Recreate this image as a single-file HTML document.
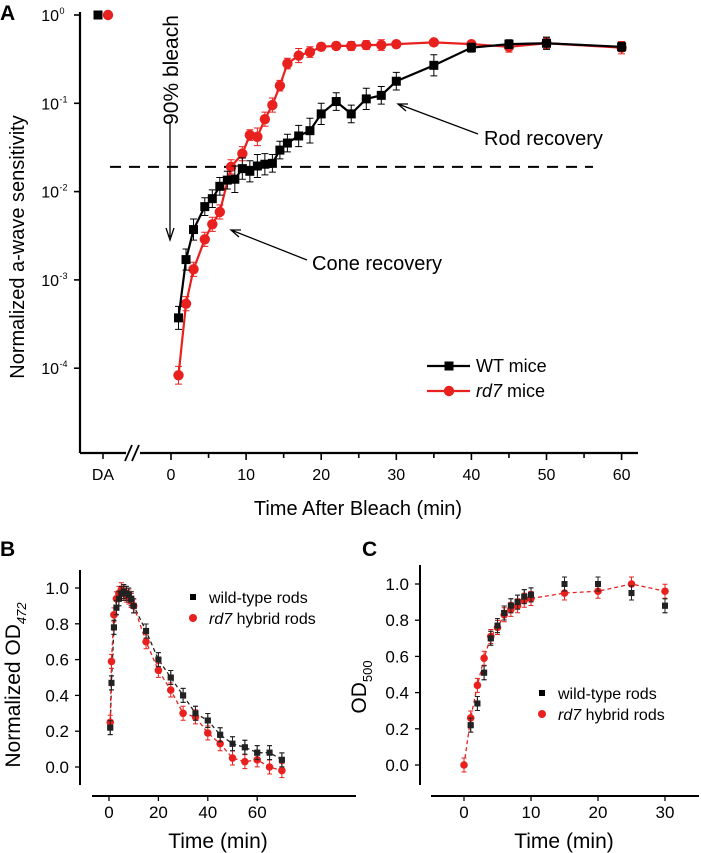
<!DOCTYPE html>
<html><head><meta charset="utf-8"><style>
html,body{margin:0;padding:0;background:#fff}
svg{display:block;font-family:"Liberation Sans",Arial,sans-serif}
</style></head><body>
<svg id="fig" width="702" height="853" viewBox="0 0 702 853">
<text x="0" y="20" font-size="21" font-weight="bold">A</text>
<text x="0" y="556" font-size="21" font-weight="bold">B</text>
<text x="362" y="556" font-size="21" font-weight="bold">C</text>
<g id="gA"></g>
<g id="gB"></g>
<g id="gC"></g>
</svg>
<script>
// ---------- Panel A data (log10 sensitivity) ----------
const aTimes = [1,2,3,4.5,5.5,6.5,7.5,8.5,9.5,10.5,11.5,12.5,13.5,14.5,15.5,17,18.5,20,22,24,26,28,30,35,40,45,50,60];
const aWT = [-3.43,-2.77,-2.43,-2.17,-2.08,-1.94,-1.87,-1.86,-1.74,-1.77,-1.71,-1.69,-1.68,-1.53,-1.45,-1.37,-1.31,-1.12,-0.98,-1.12,-0.95,-0.91,-0.75,-0.57,-0.37,-0.33,-0.32,-0.36];
const aWTerr = [0.13,0.12,0.12,0.1,0.1,0.1,0.1,0.15,0.12,0.12,0.13,0.12,0.1,0.1,0.1,0.12,0.14,0.12,0.1,0.1,0.12,0.1,0.1,0.12,0.05,0.05,0.07,0.05];
const rTimes = [1,2,3,4.5,5.5,6.5,8,9.5,10.5,11.5,12.5,13.5,14.5,15.5,17,18.5,20,22,24,26,28,30,35,40,45,50,60];
const aRD = [-4.08,-3.27,-2.88,-2.54,-2.37,-2.23,-1.72,-1.57,-1.36,-1.38,-1.18,-1.02,-0.8,-0.55,-0.46,-0.42,-0.36,-0.35,-0.35,-0.34,-0.34,-0.33,-0.31,-0.33,-0.36,-0.32,-0.37];
const aRDerr = [0.1,0.08,0.08,0.08,0.08,0.08,0.08,0.08,0.06,0.1,0.08,0.08,0.06,0.06,0.08,0.06,0.04,0.04,0.05,0.05,0.06,0.03,0.03,0.03,0.06,0.06,0.07];
const aDAwt = 0, aDArd = 0;
const aXTicks = [0,10,20,30,40,50,60];
const aYTicks = [0,-1,-2,-3,-4];
const aThreshold = -1.72;
// ---------- Panel B data ----------
const bTimes = [0.5,1,2,3,4,5,6,7,8,9,10,15,20,25,30,35,40,45,50,55,60,65,70];
const bWT = [0.22,0.47,0.78,0.89,0.94,0.97,0.98,0.97,0.96,0.94,0.90,0.76,0.60,0.50,0.40,0.30,0.26,0.18,0.13,0.11,0.08,0.08,0.04];
const bRD = [0.25,0.59,0.85,0.94,0.97,0.99,0.97,0.96,0.95,0.93,0.90,0.70,0.54,0.43,0.30,0.28,0.19,0.13,0.05,0.03,0.04,0.00,-0.02];
const bXTicks = [0,20,40,60];
const bYTicks = [0,0.2,0.4,0.6,0.8,1.0];
// ---------- Panel C data ----------
const cTimesWT = [1,2,3,4,5,6,7,8,9,10,15,20,25,30];
const cWT = [0.22,0.34,0.51,0.70,0.77,0.84,0.88,0.90,0.93,0.94,1.00,1.00,0.95,0.88];
const cTimesRD = [0,1,2,3,4,5,6,7,8,9,10,15,20,25,30];
const cRD = [0.0,0.26,0.44,0.59,0.71,0.76,0.83,0.86,0.88,0.91,0.92,0.95,0.96,1.0,0.96];
const cXTicks = [0,10,20,30];
const cYTicks = [0,0.2,0.4,0.6,0.8,1.0];

const NS="http://www.w3.org/2000/svg";
function mk(parent,tag,attrs,text){const e=document.createElementNS(NS,tag);for(const k in attrs)e.setAttribute(k,attrs[k]);if(text!==undefined)e.textContent=text;parent.appendChild(e);return e;}
const RED="#e8201e";

// ===== Panel A =====
(function(){
const g=document.getElementById('gA');
const X=t=>171+t*7.51, Y=l=>15-l*88.3;
const xDA=103;
let e;
e=mk(g,'line',{x1:80,y1:12,x2:80,y2:453,stroke:'#000','stroke-width':2.2});

e=mk(g,'line',{x1:80,y1:453,x2:638,y2:453,stroke:'#000','stroke-width':2.2});

e=mk(g,'rect',{x:126,y:446,width:14,height:14,fill:'#fff'});

e=mk(g,'path',{d:'M125 461 L132 445 M132 461 L139 445',stroke:'#000','stroke-width':1.8,fill:'none'});

e=mk(g,'line',{x1:xDA,y1:453,x2:xDA,y2:459,stroke:'#000','stroke-width':1.5});

e=mk(g,'text',{x:xDA,y:480,'font-size':16,'text-anchor':'middle'},'DA');

for(let t=0;t<=60;t+=5){
 e=mk(g,'line',{x1:X(t),y1:453,x2:X(t),y2:t%10?458:460,stroke:'#000','stroke-width':1.6});
 
}
aXTicks.forEach(t=>{e=mk(g,'text',{x:X(t),y:480,'font-size':16,'text-anchor':'middle'},String(t));
 });
aYTicks.forEach(l=>{
 e=mk(g,'line',{x1:74,y1:Y(l),x2:80,y2:Y(l),stroke:'#000','stroke-width':1.6});
 
 e=mk(g,'text',{x:59,y:Y(l)+6,'font-size':16,'text-anchor':'end'},'10');
 
 e=mk(g,'text',{x:59.5,y:Y(l)-1,'font-size':9},String(l));
 
});
e=mk(g,'text',{x:0,y:0,'font-size':20,'text-anchor':'middle',transform:'translate(24,247) rotate(-90)'},'Normalized a-wave sensitivity');

e=mk(g,'text',{x:358,y:515,'font-size':20,'text-anchor':'middle'},'Time After Bleach (min)');

e=mk(g,'line',{x1:110,y1:Y(aThreshold),x2:593,y2:Y(aThreshold),stroke:'#000','stroke-width':2,'stroke-dasharray':'11,8'});

e=mk(g,'text',{x:0,y:0,'font-size':21,'text-anchor':'middle',transform:'translate(178,70) rotate(-90)'},'90% bleach');

e=mk(g,'path',{d:'M170 122 L170 237 M166 228 L170 240 L174 228',stroke:'#000','stroke-width':1.3,fill:'none'});

e=mk(g,'text',{x:312,y:270,'font-size':20},'Cone recovery');

e=mk(g,'path',{d:'M307 260 L231 230 M239 237 L231 230 L241 230',stroke:'#000','stroke-width':1.3,fill:'none'});

e=mk(g,'text',{x:484,y:145,'font-size':20},'Rod recovery');

e=mk(g,'path',{d:'M478 134 L398 104 M406 111 L398 104 L408 104',stroke:'#000','stroke-width':1.3,fill:'none'});

function series(ts,vs,es,col,shape,name){
 const pts=ts.map((t,i)=>X(t)+','+Y(vs[i])).join(' ');
 let e=mk(g,'polyline',{points:pts,fill:'none',stroke:col,'stroke-width':2.2});
 
 ts.forEach((t,i)=>{
  const x=X(t),y=Y(vs[i]),d=es[i]*88.3;
  e=mk(g,'path',{d:`M${x} ${y-d} L${x} ${y+d} M${x-3.5} ${y-d} L${x+3.5} ${y-d} M${x-3.5} ${y+d} L${x+3.5} ${y+d}`,stroke:col,'stroke-width':1});
  
 });
 ts.forEach((t,i)=>{
  const x=X(t),y=Y(vs[i]);
  e=shape==='sq'?mk(g,'rect',{x:x-4.5,y:y-4.5,width:9,height:9,fill:col}):mk(g,'circle',{cx:x,cy:y,r:5.2,fill:col});
  
 });
}
series(rTimes,aRD,aRDerr,RED,'c','rd7');
series(aTimes,aWT,aWTerr,'#000','sq','wt');
e=mk(g,'rect',{x:98-4.5,y:Y(aDAwt)-4.5,width:9,height:9,fill:'#000'});

e=mk(g,'circle',{cx:108,cy:Y(aDArd),r:5.2,fill:RED});

// legend
e=mk(g,'line',{x1:427,y1:366,x2:470,y2:366,stroke:'#000','stroke-width':2.2});

e=mk(g,'rect',{x:444.5,y:361.5,width:9,height:9,fill:'#000'});

e=mk(g,'text',{x:476,y:372,'font-size':18},'WT mice');

e=mk(g,'line',{x1:427,y1:391,x2:470,y2:391,stroke:RED,'stroke-width':2.2});

e=mk(g,'circle',{cx:449,cy:391,r:5.2,fill:RED});

e=mk(g,'text',{x:476,y:397,'font-size':18},'');

e.innerHTML='<tspan font-style="italic">rd7</tspan> mice';
})();

// ===== small panels =====
function small(gid,p){
 const g=document.getElementById(gid);let e;
 const X=t=>p.x0+t*p.sx, Y=v=>p.y0-v*p.sy;
 e=mk(g,'line',{x1:p.ax,y1:p.ayTop,x2:p.ax,y2:p.ayBot,stroke:'#000','stroke-width':2});
 
 e=mk(g,'line',{x1:p.xl,y1:796,x2:p.xr,y2:796,stroke:'#000','stroke-width':2});
 
 p.xt.forEach(t=>{
  e=mk(g,'line',{x1:X(t),y1:796,x2:X(t),y2:801,stroke:'#000','stroke-width':1.3});
  
  e=mk(g,'text',{x:X(t),y:818,'font-size':17,'text-anchor':'middle'},String(t));
  
 });
 p.yt.forEach(v=>{
  e=mk(g,'line',{x1:p.ax-5,y1:Y(v),x2:p.ax,y2:Y(v),stroke:'#000','stroke-width':1.3});
  
  e=mk(g,'text',{x:p.ax-11,y:Y(v)+6,'font-size':17,'text-anchor':'end'},v.toFixed(1));
  
 });
 e=mk(g,'text',{x:p.tx,y:848,'font-size':21,'text-anchor':'middle'},'Time (min)');
 
 function ser(ts,vs,col,shape,name,pts){
  let e;
  if(pts){e=mk(g,'polyline',{points:ts.map((t,i)=>X(t)+','+Y(vs[i])).join(' '),fill:'none',stroke:col,'stroke-width':1.3,'stroke-dasharray':'4,3'});
  }
  ts.forEach((t,i)=>{const x=X(t),y=Y(vs[i]);
   e=mk(g,'path',{d:`M${x} ${y-7} L${x} ${y+7} M${x-2.5} ${y-7} L${x+2.5} ${y-7} M${x-2.5} ${y+7} L${x+2.5} ${y+7}`,stroke:col,'stroke-width':1});
   
   e=shape==='sq'?mk(g,'rect',{x:x-3,y:y-3,width:6,height:6,fill:col}):mk(g,'circle',{cx:x,cy:y,r:3.8,fill:col});
   
  });
 }
 ser(p.tw,p.vw,'#222','sq','wt',p.wfit);
 ser(p.tr,p.vr,RED,'c','rd7',true);
 ser(p.tw,p.vw,'#222','sq','wt',false);
 e=mk(g,'rect',{x:p.lx-3,y:p.ly-3,width:6,height:6,fill:'#000'});
 
 e=mk(g,'text',{x:p.lx+16,y:p.ly+6,'font-size':16},'wild-type rods');
 
 e=mk(g,'circle',{cx:p.lx,cy:p.ly+21,r:4,fill:RED});
 
 e=mk(g,'text',{x:p.lx+16,y:p.ly+27,'font-size':16},'');
 
 e.innerHTML='<tspan font-style="italic">rd7</tspan> hybrid rods';
}
small('gB',{n:'b',x0:109,sx:2.47,y0:767,sy:179,ax:80,ayTop:570,ayBot:785,xl:92,xr:356,xt:bXTicks,yt:bYTicks,tx:218,
 tw:bTimes,vw:bWT,tr:bTimes,vr:bRD,lx:193,ly:597,wfit:true});
small('gC',{n:'c',x0:464,sx:6.7,y0:765,sy:181,ax:420,ayTop:565,ayBot:785,xl:431,xr:699,xt:cXTicks,yt:cYTicks,tx:564,
 tw:cTimesWT,vw:cWT,tr:cTimesRD,vr:cRD,lx:542,ly:693,wfit:false});
(function(){
 const g=document.getElementById('gB');
 let e=mk(g,'text',{x:0,y:0,'font-size':21,'text-anchor':'middle',transform:'translate(20,685) rotate(-90)'},'');
 
 e.innerHTML='Normalized OD<tspan font-size="13" font-style="italic" dy="6">472</tspan>';
 const g2=document.getElementById('gC');
 e=mk(g2,'text',{x:0,y:0,'font-size':21,'text-anchor':'middle',transform:'translate(366,687) rotate(-90)'},'');
 
 e.innerHTML='OD<tspan font-size="13" dy="6">500</tspan>';
})();
</script>
</body></html>
